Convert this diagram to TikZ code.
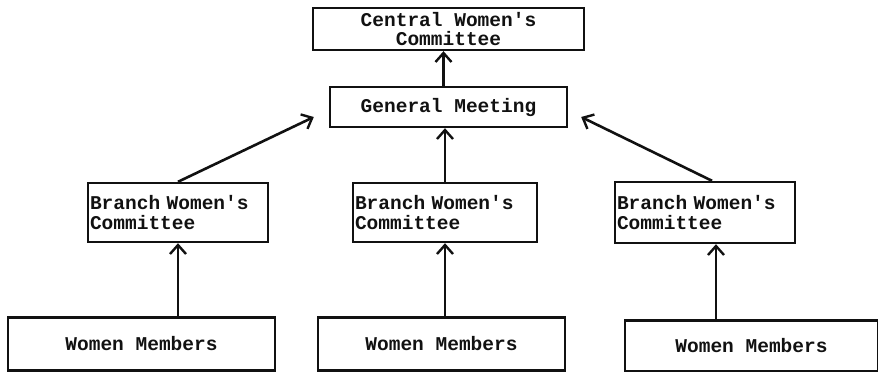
\documentclass[tikz,border=0pt]{standalone}
\usepackage{fontspec}
\setmonofont{Liberation Mono}
\usetikzlibrary{arrows.meta}
\definecolor{inkcolor}{HTML}{111111}
\newcommand{\chartwidth}{878}
\newcommand{\chartheight}{372}
\tikzset{
  orgbox/.style={draw=inkcolor, line width=2.4pt, inner sep=2pt, text=inkcolor,
    font=\ttfamily\bfseries\fontsize{19.5}{19.5}\selectfont},
  uparrow/.style={-{Straight Barb[length=9pt,width=16pt,line width=2.4pt]},
    line width=2.6pt, draw=inkcolor}
}

\begin{document}
\begin{tikzpicture}[x=1pt, y=-1pt]
  \useasboundingbox (0,0) rectangle (\chartwidth, \chartheight);

  % === TOP ===
  \node[orgbox, minimum width=271pt, minimum height=42pt, align=center] (central)
    at (448.5, 29) {Central Women's\\Committee};
  \node[orgbox, minimum width=237pt, minimum height=40pt] (meeting)
    at (448.5, 107) {General Meeting};

  % === BRANCHES ===
  \node[orgbox, text width=176pt, minimum height=59pt, align=left] (branchleft)
    at (178, 212.5) {Branch Women's\\Committee};
  \node[orgbox, text width=180pt, minimum height=59pt, align=left] (branchmid)
    at (445, 212.5) {Branch Women's\\Committee};
  \node[orgbox, text width=176pt, minimum height=61pt, align=left] (branchright)
    at (705, 212.5) {Branch Women's\\Committee};

  % === MEMBERS ===
  \node[orgbox, minimum width=267pt, minimum height=53pt] (membersleft)
    at (141.5, 344) {Women Members};
  \node[orgbox, minimum width=247pt, minimum height=53pt] (membersmid)
    at (441.5, 344) {Women Members};
  \node[orgbox, minimum width=253pt, minimum height=51pt] (membersright)
    at (751.5, 346) {Women Members};

  % Arrows
  \draw[uparrow] (membersleft.north -| branchleft.south) -- (branchleft.south);
  \draw[uparrow] (membersmid.north -| branchmid.south) -- (branchmid.south);
  \draw[uparrow] ([xshift=11pt]branchright.south |- membersright.north)
    -- ([xshift=11pt]branchright.south);
  \draw[uparrow] (branchleft.north) -- ([shift={(-15,10)}]meeting.west);
  \draw[uparrow] (branchmid.north) -- (branchmid.north |- meeting.south);
  \draw[uparrow] ([xshift=7pt]branchright.north) -- ([shift={(13,10)}]meeting.east);
  \draw[uparrow] ([xshift=-5pt]meeting.north) -- ([xshift=-5pt]meeting.north |- central.south);
\end{tikzpicture}
\end{document}
